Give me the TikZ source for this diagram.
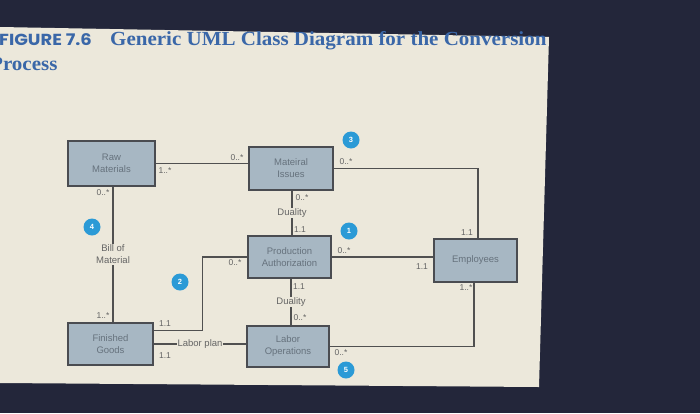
\documentclass[tikz,border=0pt]{standalone}
\usepackage{fontspec}
\setmainfont{Liberation Serif}
\newfontfamily\boxfont{Liberation Sans}
\newfontfamily\popp{Poppins}
\definecolor{darkbg}{HTML}{23263A}
\definecolor{paper}{HTML}{ECE8DB}
\definecolor{boxfill}{HTML}{A7B7C3}
\definecolor{boxline}{HTML}{4A4C51}
\definecolor{wire}{HTML}{505050}
\definecolor{boxtext}{HTML}{66727D}
\definecolor{labtext}{HTML}{646464}
\definecolor{badge}{HTML}{2B9AD6}
\definecolor{titleblue}{HTML}{3A67A8}
\tikzset{
  classbox/.style={draw=boxline, line width=1.5pt, fill=boxfill, text=boxtext,
    font=\boxfont\fontsize{9.5}{12}\selectfont, align=center, inner sep=0pt},
  conn/.style={draw=wire, line width=1.3pt},
  mult/.style={text=labtext, font=\boxfont\fontsize{8.5}{9}\selectfont, inner sep=0pt},
  midlabel/.style={fill=paper, text=labtext, font=\boxfont\fontsize{9.5}{12}\selectfont,
    align=center, inner sep=1pt},
  numbadge/.style={circle, fill=badge, text=white, minimum size=17pt, inner sep=0pt,
    font=\boxfont\bfseries\fontsize{7.5}{7.5}\selectfont}
}
\begin{document}
\begin{tikzpicture}[x=1pt,y=-1pt]
\useasboundingbox (0,0) rectangle (700,413);
\fill[darkbg] (0,0) rectangle (700,413);
\fill[paper] (0,27) -- (549,37) -- (539,387) -- (0,383) -- cycle;

% title
\node[anchor=base west, inner sep=0pt, text=titleblue] (fig) at (-1,45)
  {\scalebox{1.12}[1]{\popp\bfseries\fontsize{16}{16}\selectfont FIGURE 7.6}};
\node[anchor=base west, inner sep=0pt, text=titleblue] (title) at (110,45)
  {\scalebox{1.05}[1]{\bfseries\fontsize{20}{20}\selectfont Generic UML Class Diagram for the Conversion}};
\node[anchor=base west, inner sep=0pt, text=titleblue] (title2) at (-10,70)
  {\scalebox{1.05}[1]{\bfseries\fontsize{20}{20}\selectfont Process}};

% classes
\node[classbox, minimum width=87pt, minimum height=45pt] (rm)  at (111.5,163.5) {Raw\\Materials};
\node[classbox, minimum width=84pt, minimum height=43pt] (mi)  at (291,168.5) {Mateiral\\Issues};
\node[classbox, minimum width=83pt, minimum height=42pt] (pa)  at (289.5,257) {Production\\Authorization};
\node[classbox, minimum width=83pt, minimum height=43pt] (emp) at (475.5,260.5) {Employees};
\node[classbox, minimum width=85pt, minimum height=42pt] (fg)  at (110.5,344) {Finished\\Goods};
\node[classbox, minimum width=82pt, minimum height=41pt] (lo)  at (288,346.5) {Labor\\Operations};

% connectors
\draw[conn] (rm.east) -- (rm.east -| mi.west);
\draw[conn] (mi.east) -| ([xshift=2.5pt]emp.north);
\draw[conn] (pa.east) -- (pa.east -| emp.west);
\draw[conn] (lo.east) -| ([xshift=-1.5pt]emp.south);
\draw[conn] ([yshift=-8pt]fg.north east) -- ++(49,0) |- (pa.west);
\draw[conn] (fg.east) -- node[midlabel] (lp) {Labor plan} (fg.east -| lo.west);
\draw[conn] ([xshift=1.5pt]rm.south) -- node[midlabel] (bom) {Bill of\\Material} ([xshift=1.5pt]rm.south |- fg.north);
\draw[conn] ([xshift=1pt]mi.south) -- node[midlabel] (du1) {Duality} ([xshift=1pt]mi.south |- pa.north);
\draw[conn] ([xshift=1.5pt]pa.south) -- node[midlabel] (du2) {Duality} ([xshift=1.5pt]pa.south |- lo.north);

% multiplicities
\node[mult] (m1)  at (165,171) {1..*};
\node[mult] (m2)  at (237,158) {0..*};
\node[mult] (m3)  at (103,193) {0..*};
\node[mult] (m4)  at (103,316) {1..*};
\node[mult] (m5)  at (302,198) {0..*};
\node[mult] (m6)  at (300,230) {1.1};
\node[mult] (m7)  at (346,162) {0..*};
\node[mult] (m8)  at (467,233) {1.1};
\node[mult] (m9)  at (235,263) {0..*};
\node[mult] (m10) at (344,251) {0..*};
\node[mult] (m11) at (422,267) {1.1};
\node[mult] (m12) at (466,288) {1..*};
\node[mult] (m13) at (299,287) {1.1};
\node[mult] (m14) at (300,318) {0..*};
\node[mult] (m15) at (165,324) {1.1};
\node[mult] (m16) at (165,356) {1.1};
\node[mult] (m17) at (341,353) {0..*};

% numbered badges
\node[numbadge] (b1) at (349,231) {1};
\node[numbadge] (b2) at (180,282) {2};
\node[numbadge] (b3) at (351,140) {3};
\node[numbadge] (b4) at (92,227) {4};
\node[numbadge] (b5) at (346,370) {5};
\end{tikzpicture}
\end{document}
